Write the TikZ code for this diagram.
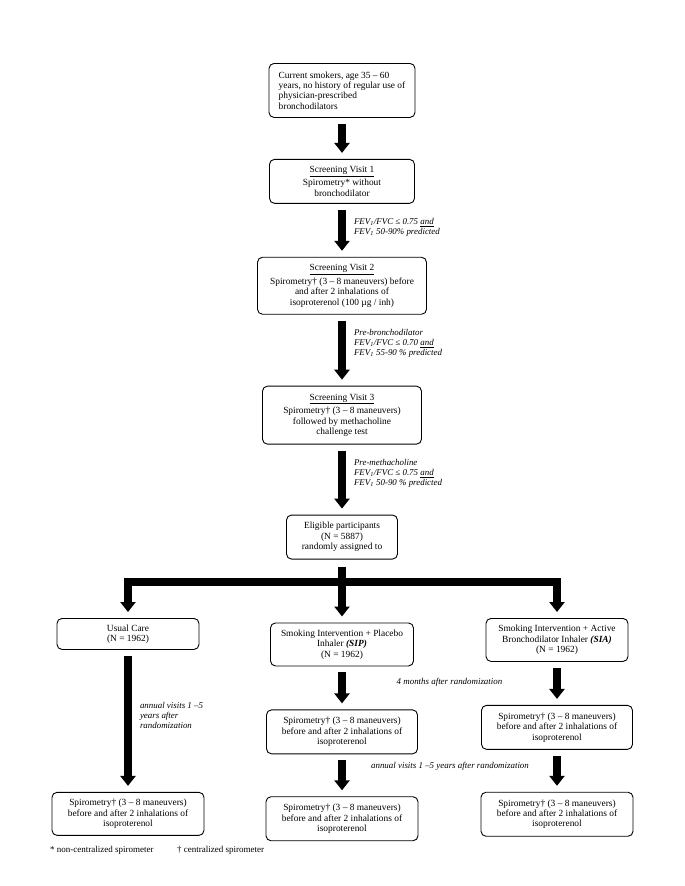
\documentclass[tikz,border=0pt]{standalone}
\usepackage{fontspec}
\setmainfont{Liberation Serif}
\usepackage{tikz}
\usetikzlibrary{positioning, arrows.meta}

\begin{document}
\begin{tikzpicture}[x=1pt, y=-1pt,
  box/.style={draw, rounded corners=5pt, line width=0.9pt, align=center, inner sep=2pt, font={\fontsize{9.4pt}{10.4pt}\selectfont}},
  note/.style={align=left, inner sep=1pt, font={\fontsize{8.9pt}{10.2pt}\selectfont\itshape}},
  foot/.style={anchor=west, inner sep=0pt, font={\fontsize{9pt}{10pt}\selectfont}},
  arr/.style={line width=8pt, -{Triangle[width=15pt, length=10pt]}, shorten <=6pt, shorten >=6pt}]
  \useasboundingbox (0,0) rectangle (685,886);
  % screening column
  \node[box, align=left, anchor=north, minimum width=146pt, minimum height=54pt] (smokers) at (342,63) {Current smokers, age 35 – 60\\years, no history of regular use of\\physician-prescribed\\bronchodilators};
  \node[box, minimum width=145pt, minimum height=44pt, below=41pt of smokers] (visit1) {\underline{Screening Visit 1}\\[2pt]Spirometry* without\\bronchodilator};
  \node[box, minimum width=169pt, minimum height=57pt, below=53pt of visit1] (visit2) {\underline{Screening Visit 2}\\[2pt]Spirometry† (3 – 8 maneuvers) before\\and after 2 inhalations of\\isoproterenol (100 µg / inh)};
  \node[box, minimum width=159pt, minimum height=58pt, below=71pt of visit2] (visit3) {\underline{Screening Visit 3}\\[2pt]Spirometry† (3 – 8 maneuvers)\\followed by methacholine\\challenge test};
  \node[box, minimum width=111pt, minimum height=44pt, below=70pt of visit3] (eligible) {Eligible participants\\(N = 5887)\\randomly assigned to};
  % treatment groups
  \node[box, minimum width=143pt, minimum height=43pt, below=63pt of eligible] (sip) {Smoking Intervention + Placebo\\Inhaler \textbf{\textit{(SIP)}}\\(N = 1962)};
  \node[box, anchor=north, minimum width=142pt, minimum height=31pt] (usual) at (128,618) {Usual Care\\(N = 1962)};
  \node[box, anchor=north, minimum width=142pt, minimum height=43pt] (sia) at (557,618) {Smoking Intervention + Active\\Bronchodilator Inhaler \textbf{\textit{(SIA)}}\\(N = 1962)};
  \node[box, minimum width=151pt, minimum height=44pt, below=43pt of sip] (sipspiro) {Spirometry† (3 – 8 maneuvers)\\before and after 2 inhalations of\\isoproterenol};
  \node[box, minimum width=151pt, minimum height=44pt, below=43pt of sia] (siaspiro) {Spirometry† (3 – 8 maneuvers)\\before and after 2 inhalations of\\isoproterenol};
  \node[box, minimum width=152pt, minimum height=44pt, below=42pt of sipspiro] (sipfinal) {Spirometry† (3 – 8 maneuvers)\\before and after 2 inhalations of\\isoproterenol};
  \node[box, minimum width=152pt, minimum height=44pt, below=42pt of siaspiro] (siafinal) {Spirometry† (3 – 8 maneuvers)\\before and after 2 inhalations of\\isoproterenol};
  \node[box, minimum width=152pt, minimum height=43pt, below=142pt of usual] (usualfinal) {Spirometry† (3 – 8 maneuvers)\\before and after 2 inhalations of\\isoproterenol};
  \coordinate (split) at (342,581.5);
  % arrows
  \draw[arr] (smokers) -- (visit1);
  \draw[arr] (visit1) -- node[note, pos=0.45, anchor=west, xshift=7pt] {FEV\textsubscript{1}/FVC ≤ 0.75 \underline{and}\\FEV\textsubscript{1} 50-90\% predicted} (visit2);
  \draw[arr] (visit2) -- node[note, pos=0.4, anchor=west, xshift=7pt] {Pre-bronchodilator\\FEV\textsubscript{1}/FVC ≤ 0.70 \underline{and}\\FEV\textsubscript{1} 55-90 \% predicted} (visit3);
  \draw[arr] (visit3) -- node[note, pos=0.41, anchor=west, xshift=7pt] {Pre-methacholine\\FEV\textsubscript{1}/FVC ≤ 0.75 \underline{and}\\FEV\textsubscript{1} 50-90 \% predicted} (eligible);
  \draw[line width=8pt, shorten <=7pt] (eligible) -- (split);
  \draw[arr, shorten <=0pt] (split) -| (usual);
  \draw[arr, shorten <=0pt] (split) -- (sip);
  \draw[arr, shorten <=0pt] (split) -| (sia);
  \draw[arr] (usual) -- node[note, pos=0.46, anchor=west, xshift=7pt] {annual visits 1 –5\\years after\\randomization} (usualfinal);
  \draw[arr] (sip) -- (sipspiro);
  \draw[arr] (sia) -- (siaspiro);
  \draw[arr] (sipspiro) -- (sipfinal);
  \draw[arr] (siaspiro) -- (siafinal);
  \node[note] (months) at (449.5,682) {4 months after randomization};
  \node[note] (annual) at (450,766) {annual visits 1 –5 years after randomization};
  % footnote
  \node[foot] (star) at (50,850) {* non-centralized spirometer};
  \node[foot] (dagger) at (177,850) {† centralized spirometer};
\end{tikzpicture}
\end{document}
